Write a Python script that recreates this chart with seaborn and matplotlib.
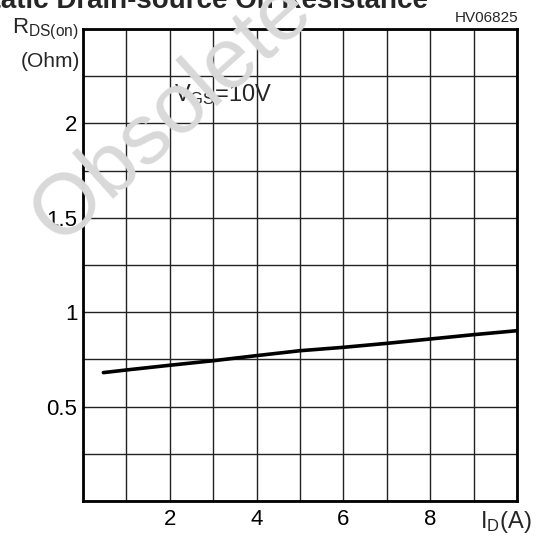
import matplotlib
matplotlib.use("Agg")
import matplotlib.pyplot as plt
import seaborn as sns
import pandas as pd
import numpy as np

# ---- data ----
drain_current_a = [0.47, 1, 2, 3, 4, 5, 6, 7, 8, 9, 10]
rds_on_ohm = [0.68, 0.694, 0.719, 0.743, 0.77, 0.796, 0.814, 0.835, 0.858, 0.881, 0.902]
x_tick_labels = ["2", "4", "6", "8"]
y_tick_labels = ["0.5", "1", "1.5", "2"]

sns.set_theme(style="white")
plt.rcParams["font.family"] = ["Liberation Sans", "DejaVu Sans"]
plt.rcParams["mathtext.fontset"] = "custom"
plt.rcParams["mathtext.rm"] = "Liberation Sans"
plt.rcParams["mathtext.it"] = "Liberation Sans"
plt.rcParams["mathtext.bf"] = "Liberation Sans:bold"

W, H = 550, 539
fig = plt.figure(figsize=(W / 100, H / 100), dpi=100)
fig.patch.set_facecolor("white")
ax = fig.add_axes([83 / W, 1 - 501 / H, (517 - 83) / W, (501 - 29) / H])

df = pd.DataFrame({"ID": drain_current_a, "RDS": rds_on_ohm})
sns.lineplot(data=df, x="ID", y="RDS", ax=ax, color="black", linewidth=2.6, zorder=5)

ax.set_xlim(0, 10)
ax.set_ylim(0, 2.5)
xt = np.arange(0, 11, 1)
yt = np.arange(0, 2.51, 0.25)
ax.set_xticks(xt)
ax.set_yticks(yt)
xl = {float(v): v for v in x_tick_labels}
yl = {float(v): v for v in y_tick_labels}
ax.set_xticklabels([xl.get(float(v), "") for v in xt])
ax.set_yticklabels([yl.get(round(float(v), 2), "") for v in yt])
ax.tick_params(axis="both", length=0, labelsize=16, colors="black")
ax.tick_params(axis="x", pad=6)
ax.tick_params(axis="y", pad=4)
ax.grid(True, color="#222222", linewidth=1.0)
ax.set_axisbelow(True)
for s in ax.spines.values():
    s.set_color("black")
    s.set_linewidth(2.0)
ax.set_xlabel("")
ax.set_ylabel("")

def fx(px):
    return px / W

def fy(py):
    return 1 - py / H

# axis labels
fig.text(fx(12), fy(33), r"R$_{\mathrm{DS(on)}}$", fontsize=16, ha="left", va="baseline")
fig.text(fx(80), fy(67), "(Ohm)", fontsize=15, ha="right", va="baseline")
fig.text(fx(480), fy(528), r"I$_{\mathrm{D}}$(A)", fontsize=17, ha="left", va="baseline")
fig.text(fx(518), fy(22), "HV06825", fontsize=11, ha="right", va="baseline")
ax.text(2.1, 2.12, r"V$_{\mathrm{GS}}$=10V", fontsize=17, ha="left", va="baseline", zorder=6)

# clipped title
fig.text(fx(-27), fy(8), "Static Drain-source On Resistance", fontsize=20,
         fontweight="bold", ha="left", va="baseline")

# watermark
fig.text(fx(60), fy(248), "Obsolete Product(s)", fontsize=62,
         color="#d9d9d9", rotation=42, rotation_mode="anchor",
         ha="left", va="baseline", zorder=20)

fig.savefig("out.png", dpi=100)
